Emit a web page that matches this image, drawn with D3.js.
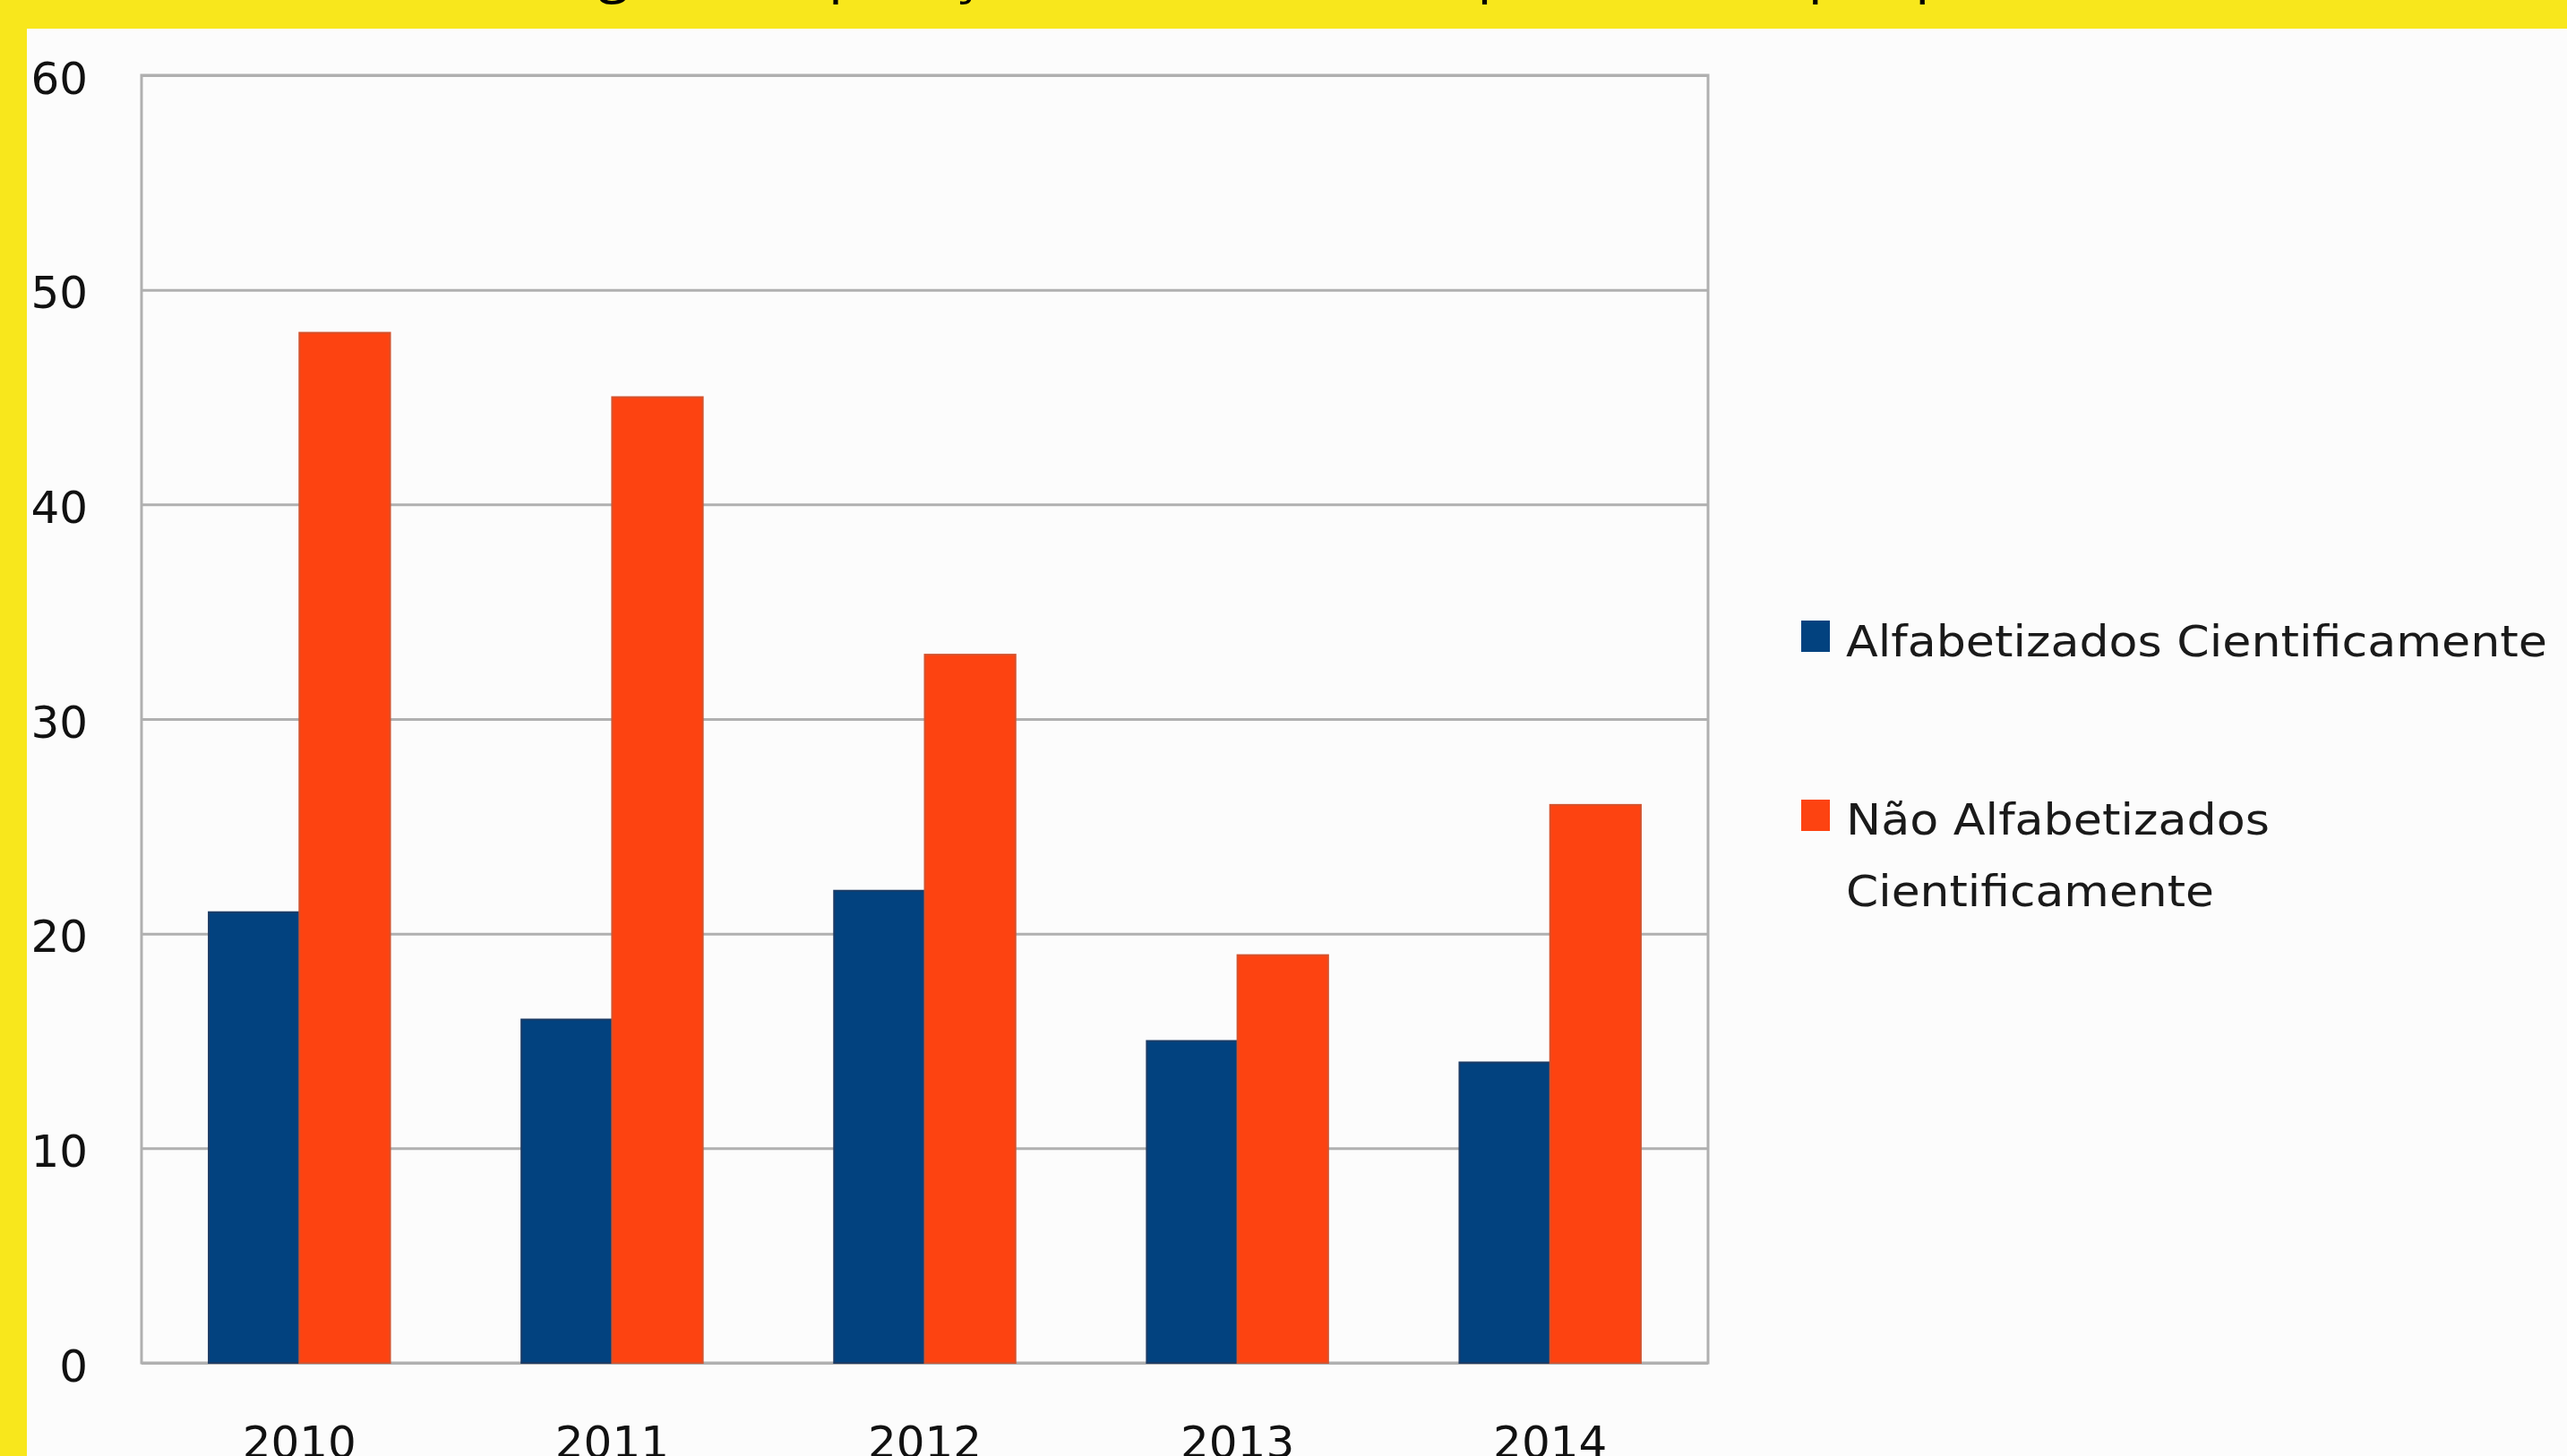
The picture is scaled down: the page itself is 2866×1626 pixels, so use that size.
<!DOCTYPE html>
<html>
<head>
<meta charset="utf-8">
<script src="https://cdn.jsdelivr.net/npm/d3@7"></script>
<style>
  html, body { margin: 0; padding: 0; background: #f8e71c; overflow: hidden; }
  svg { display: block; }
  text { font-family: "DejaVu Sans", "Open Sans", sans-serif; }
</style>
</head>
<body>
<svg id="chart" width="2866" height="1626"></svg>
<script>
// ---- data ----
const categories = ["2010", "2011", "2012", "2013", "2014"];
const alfabetizados = [21, 16, 22, 15, 14];
const naoAlfabetizados = [48, 45, 33, 19, 26];
const seriesNames = ["Alfabetizados Cientificamente", "Não Alfabetizados Cientificamente"];
const yTicks = [0, 10, 20, 30, 40, 50, 60];
const titleText = "Fig. 1 Comparação dos estudantes por turma e por período";

// ---- layout ----
const W = 2866, H = 1626;
const plot = { left: 158, right: 1907, top: 84, bottom: 1522 };
const colors = ["#02427f", "#fd4311"];
const strokes = ["#1c3c66", "#d4532e"];
const gridColor = "#b0b0b0";
const FONT = "'DejaVu Sans', 'Open Sans', sans-serif";

const svg = d3.select("#chart");

// backgrounds
svg.append("rect").attr("x", 0).attr("y", 0).attr("width", W).attr("height", H).attr("fill", "#f8e71c");
svg.append("rect").attr("x", 30).attr("y", 32).attr("width", W - 30).attr("height", H - 32).attr("fill", "#fcfcfc");

// partially visible title (cut off at the top edge, as in the reference)
(function () {
  const t = svg.append("text").attr("x", 0).attr("y", 100)
    .attr("font-size", 50).attr("fill", "#000")
    .style("font-family", "'Open Sans', sans-serif")
    .text(titleText);
  const node = t.node();
  const center = i => node.getSubStringLength(0, i) + node.getSubStringLength(i, 1) / 2;
  const gi = titleText.indexOf("g");
  const pi = titleText.lastIndexOf("p");
  const cg = center(gi), cp = center(pi);
  const k = (2158 - 685) / (cp - cg);
  const fs = 50 * k;
  t.attr("font-size", fs)
   .attr("x", 685 - cg * k)
   .attr("y", -(0.24 * fs) + 5);
})();

// scales
const x0 = d3.scaleBand().domain(categories).range([plot.left, plot.right])
  .paddingInner(0.42).paddingOuter(0.215);
const x1 = d3.scaleBand().domain([0, 1]).range([0, x0.bandwidth()]).padding(0);
const y = d3.scaleLinear().domain([0, 60]).range([plot.bottom, plot.top]);

// grid lines
const grid = svg.append("g").attr("transform", `translate(${plot.left},0)`)
  .call(d3.axisLeft(y).tickValues(yTicks).tickSize(-(plot.right - plot.left)).tickFormat(""));
grid.select(".domain").remove();
grid.selectAll(".tick line").attr("stroke", gridColor).attr("stroke-width", 3);

// frame
svg.append("rect")
  .attr("x", plot.left).attr("y", plot.top)
  .attr("width", plot.right - plot.left).attr("height", plot.bottom - plot.top)
  .attr("fill", "none").attr("stroke", gridColor).attr("stroke-width", 3);

// y labels
const yAxis = svg.append("g").attr("transform", `translate(${plot.left},0)`)
  .call(d3.axisLeft(y).tickValues(yTicks).tickSize(0).tickPadding(60));
yAxis.select(".domain").remove();
yAxis.selectAll("text")
  .attr("font-size", 50).attr("fill", "#111")
  .style("font-family", FONT)
  .attr("dy", "0.40em");

// x labels
const xAxis = svg.append("g").attr("transform", `translate(0,${plot.bottom})`)
  .call(d3.axisBottom(x0).tickSize(0));
xAxis.select(".domain").remove();
xAxis.selectAll("text")
  .attr("font-size", 50).attr("fill", "#111")
  .style("font-family", FONT)
  .attr("y", 106).attr("dy", null);

// bars
const series = [alfabetizados, naoAlfabetizados];
series.forEach((vals, si) => {
  svg.append("g").selectAll("rect")
    .data(categories.map((c, i) => ({ c, v: vals[i] })))
    .join("rect")
    .attr("x", d => x0(d.c) + x1(si))
    .attr("y", d => y(d.v))
    .attr("width", x1.bandwidth())
    .attr("height", d => plot.bottom - y(d.v))
    .attr("fill", colors[si])
    .attr("stroke", strokes[si])
    .attr("stroke-width", 2);
});

// legend
const legend = svg.append("g");
const legendItems = [
  { lines: ["Alfabetizados Cientificamente"], widths: [783], sq: 693, base: 733 },
  { lines: ["Não Alfabetizados", "Cientificamente"], widths: [473, 411], sq: 893, base: 932 }
];
legendItems.forEach((it, i) => {
  legend.append("rect")
    .attr("x", 2011).attr("y", it.sq).attr("width", 32).attr("height", 35)
    .attr("fill", colors[i]);
  const t = legend.append("text")
    .attr("x", 2061).attr("y", it.base)
    .attr("font-size", 48).attr("fill", "#1a1a1a")
    .style("font-family", FONT);
  it.lines.forEach((ln, j) => {
    t.append("tspan").attr("x", 2061).attr("dy", j === 0 ? 0 : 80)
      .attr("textLength", it.widths[j]).attr("lengthAdjust", "spacingAndGlyphs")
      .text(ln);
  });
});
</script>
</body>
</html>
